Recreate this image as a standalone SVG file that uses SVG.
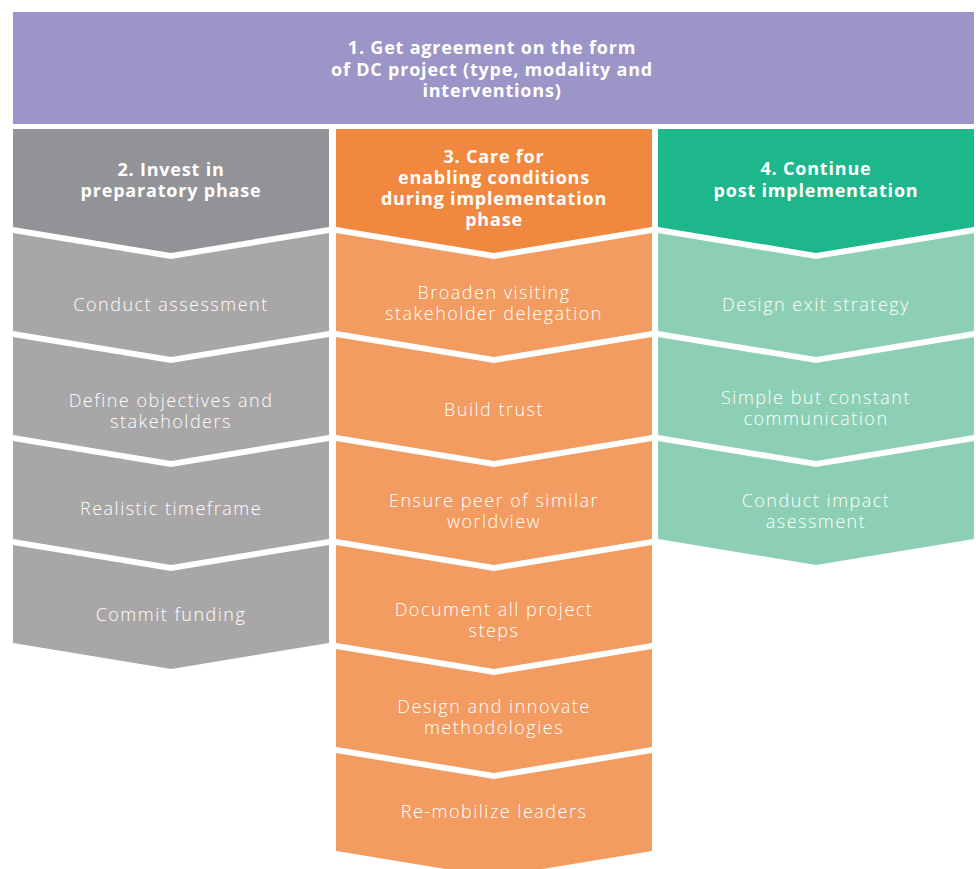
<svg xmlns="http://www.w3.org/2000/svg" width="976" height="869" viewBox="0 0 976 869">
<style>
.t{font-family:"Open Sans","Liberation Sans",sans-serif;fill:#ffffff;text-anchor:middle}
.h{font-size:18px;font-weight:700;letter-spacing:0.8px}
.b{font-size:18px;font-weight:300;letter-spacing:1.5px}
.pu{fill:#9c95c7}
.gh{fill:#929396}
.gi{fill:#a8a6a7}
.oh{fill:#f0883f}
.oi{fill:#f29c62}
.eh{fill:#1db78b}
.ei{fill:#8dcfb4}
</style>
<rect width="976" height="869" fill="#ffffff"/>
<g id="n1">
<rect class="pu" x="13" y="12" width="961" height="112"/>
<text class="t h" x="492" y="54">1. Get agreement on the form</text>
<text class="t h" x="492" y="76">of DC project (type, modality and</text>
<text class="t h" x="492" y="97">interventions)</text>
</g>
<g id="n2">
<polygon class="gh" points="13,129 329,129 329,227 171,253 13,227"/>
<text class="t h" x="171" y="176">2. Invest in</text>
<text class="t h" x="171" y="197">preparatory phase</text>
</g>
<g id="n2a">
<polygon class="gi" points="13,233 171,259 329,233 329,331 171,357 13,331"/>
<text class="t b" x="171" y="311">Conduct assessment</text>
</g>
<g id="n2b">
<polygon class="gi" points="13,337 171,363 329,337 329,435 171,461 13,435"/>
<text class="t b" x="171" y="407">Define objectives and</text>
<text class="t b" x="171" y="428">stakeholders</text>
</g>
<g id="n2c">
<polygon class="gi" points="13,441 171,467 329,441 329,539 171,565 13,539"/>
<text class="t b" x="171" y="515">Realistic timeframe</text>
</g>
<g id="n2d">
<polygon class="gi" points="13,545 171,571 329,545 329,643 171,669 13,643"/>
<text class="t b" x="171" y="621">Commit funding</text>
</g>
<g id="n3">
<polygon class="oh" points="336,129 652,129 652,227 494,253 336,227"/>
<text class="t h" x="494" y="163">3. Care for</text>
<text class="t h" x="494" y="184">enabling conditions</text>
<text class="t h" x="494" y="205">during implementation</text>
<text class="t h" x="494" y="226">phase</text>
</g>
<g id="n3a">
<polygon class="oi" points="336,233 494,259 652,233 652,331 494,357 336,331"/>
<text class="t b" x="494" y="299">Broaden visiting</text>
<text class="t b" x="494" y="320">stakeholder delegation</text>
</g>
<g id="n3b">
<polygon class="oi" points="336,337 494,363 652,337 652,435 494,461 336,435"/>
<text class="t b" x="494" y="416">Build trust</text>
</g>
<g id="n3c">
<polygon class="oi" points="336,441 494,467 652,441 652,539 494,565 336,539"/>
<text class="t b" x="494" y="507">Ensure peer of similar</text>
<text class="t b" x="494" y="528">worldview</text>
</g>
<g id="n3d">
<polygon class="oi" points="336,545 494,571 652,545 652,643 494,669 336,643"/>
<text class="t b" x="494" y="616">Document all project</text>
<text class="t b" x="494" y="637">steps</text>
</g>
<g id="n3e">
<polygon class="oi" points="336,649 494,675 652,649 652,747 494,773 336,747"/>
<text class="t b" x="494" y="713">Design and innovate</text>
<text class="t b" x="494" y="734">methodologies</text>
</g>
<g id="n3f">
<polygon class="oi" points="336,753 494,779 652,753 652,851 494,877 336,851"/>
<text class="t b" x="494" y="818">Re-mobilize leaders</text>
</g>
<g id="n4">
<polygon class="eh" points="658,129 974,129 974,227 816,253 658,227"/>
<text class="t h" x="816" y="175">4. Continue</text>
<text class="t h" x="816" y="197">post implementation</text>
</g>
<g id="n4a">
<polygon class="ei" points="658,233 816,259 974,233 974,331 816,357 658,331"/>
<text class="t b" x="816" y="311">Design exit strategy</text>
</g>
<g id="n4b">
<polygon class="ei" points="658,337 816,363 974,337 974,435 816,461 658,435"/>
<text class="t b" x="816" y="404">Simple but constant</text>
<text class="t b" x="816" y="425">communication</text>
</g>
<g id="n4c">
<polygon class="ei" points="658,441 816,467 974,441 974,539 816,565 658,539"/>
<text class="t b" x="816" y="507">Conduct impact</text>
<text class="t b" x="816" y="528">asessment</text>
</g>
</svg>
